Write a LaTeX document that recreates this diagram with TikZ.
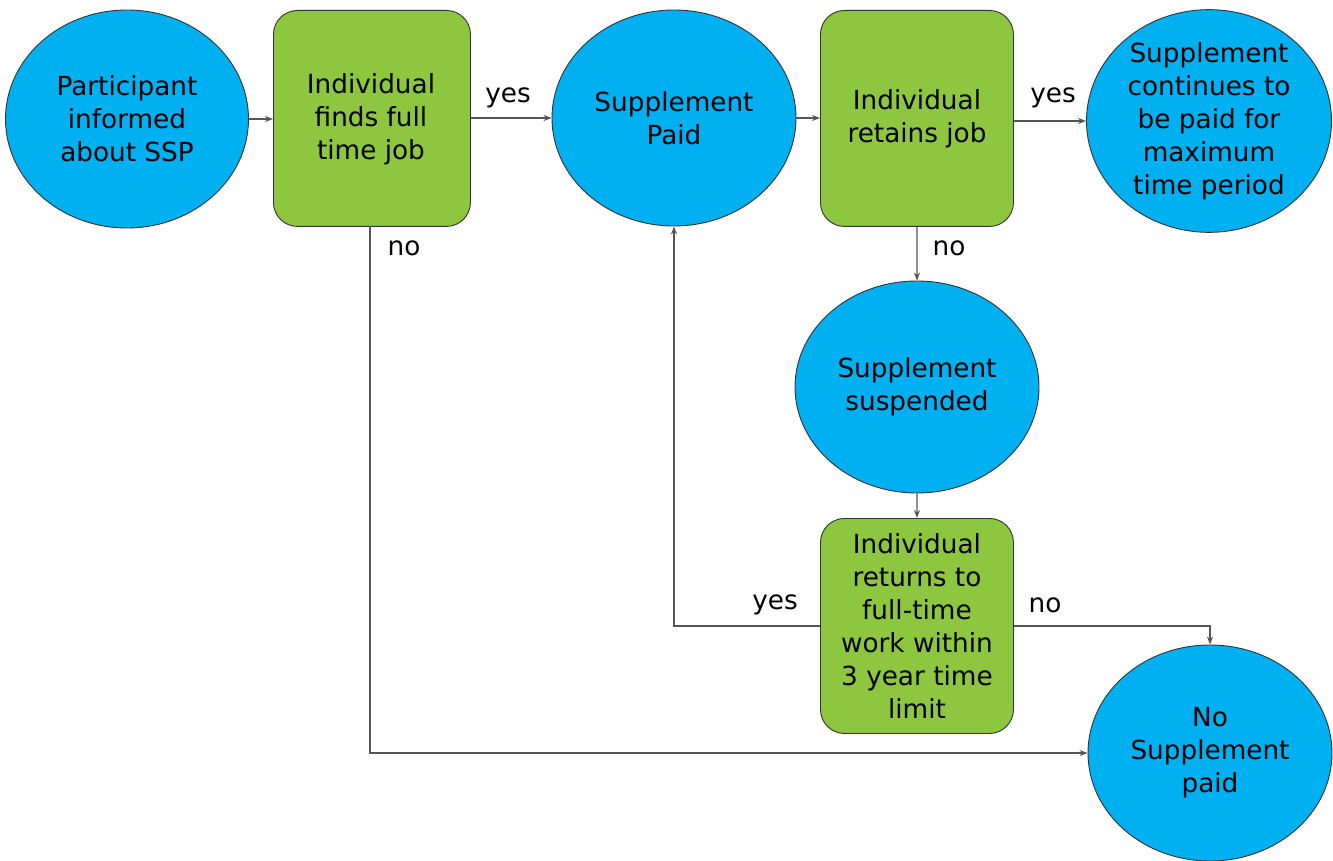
\documentclass[tikz,border=0pt]{standalone}
\usepackage{fontspec}
\setmainfont{DejaVu Sans}
\usetikzlibrary{shapes.geometric,arrows.meta}
\definecolor{ovalblue}{HTML}{00B0F0}
\definecolor{boxgreen}{HTML}{8DC63F}
\definecolor{linegray}{HTML}{555555}
\tikzset{
  oval/.style={ellipse, draw=black!80, line width=0.9pt, fill=ovalblue, inner sep=0pt, align=center, font=\fsz},
  gbox/.style={rectangle, rounded corners=24pt, draw=black!80, line width=0.9pt, fill=boxgreen, inner sep=0pt, align=center, font=\fsz},
  conn/.style={draw=linegray, line width=1.3pt, -{Stealth[length=8pt,width=6pt]}},
  lbl/.style={font=\fsz, inner sep=0pt},
  txt/.style={font=\fsz, align=center, inner sep=0pt}
}
\newcommand{\fsz}{\fontsize{26.3}{33}\selectfont}
\begin{document}
\begin{tikzpicture}[x=1pt,y=-1pt]
\useasboundingbox (0,0) rectangle (1333,861);
% nodes
\node[oval, minimum width=243pt, minimum height=218pt] (e1) at (127,119) {Participant\\informed\\about SSP};
\node[gbox, minimum width=197pt, minimum height=216pt, anchor=north west] (b1) at (273,10) {};
\node[txt] at (371,119) {Individual\\finds full\\time job};
\node[oval, minimum width=244pt, minimum height=216pt] (e2) at (674,118) {};
\node[txt] at (674,118) {Supplement\\Paid};
\node[gbox, minimum width=193pt, minimum height=216pt, anchor=north west] (b2) at (820,10) {};
\node[txt] at (917,119) {Individual\\retains job};
\node[oval, minimum width=245pt, minimum height=222pt] (e3) at (1209,121) {Supplement\\continues to\\be paid for\\maximum\\time period};
\node[oval, minimum width=244pt, minimum height=212pt] (e4) at (917,387) {Supplement\\suspended};
\node[gbox, minimum width=193pt, minimum height=215pt, anchor=north west] (b3) at (820,518) {Individual\\returns to\\full-time\\work within\\3 year time\\limit};
\node[oval, minimum width=244pt, minimum height=216pt] (e5) at (1210,753) {No\\Supplement\\paid};
% connectors
\draw[conn] (e1.east) -- (b1.west |- e1.east);
\draw[conn] (b1.east |- e2.west) -- (e2.west);
\draw[conn] (e2.east) -- (b2.west |- e2.east);
\draw[conn] (b2.east |- e3.west) -- (e3.west);
\draw[conn] (b2.south) -- (e4.north);
\draw[conn] (e4.south) -- (b3.north);
\draw[conn] (b3.west) -- (e2.south |- b3.west) -- (e2.south);
\draw[conn] (b3.east) -- (e5.north |- b3.east) -- (e5.north);
\coordinate (b1s) at (370,226);
\draw[conn] (b1s) -- (b1s |- e5.west) -- (e5.west);
% labels
\node[lbl] at (508,98) {yes};
\node[lbl] at (1053,98) {yes};
\node[lbl] at (404,248) {no};
\node[lbl] at (949,248) {no};
\node[lbl] at (775,605) {yes};
\node[lbl] at (1045,605) {no};
\end{tikzpicture}
\end{document}
